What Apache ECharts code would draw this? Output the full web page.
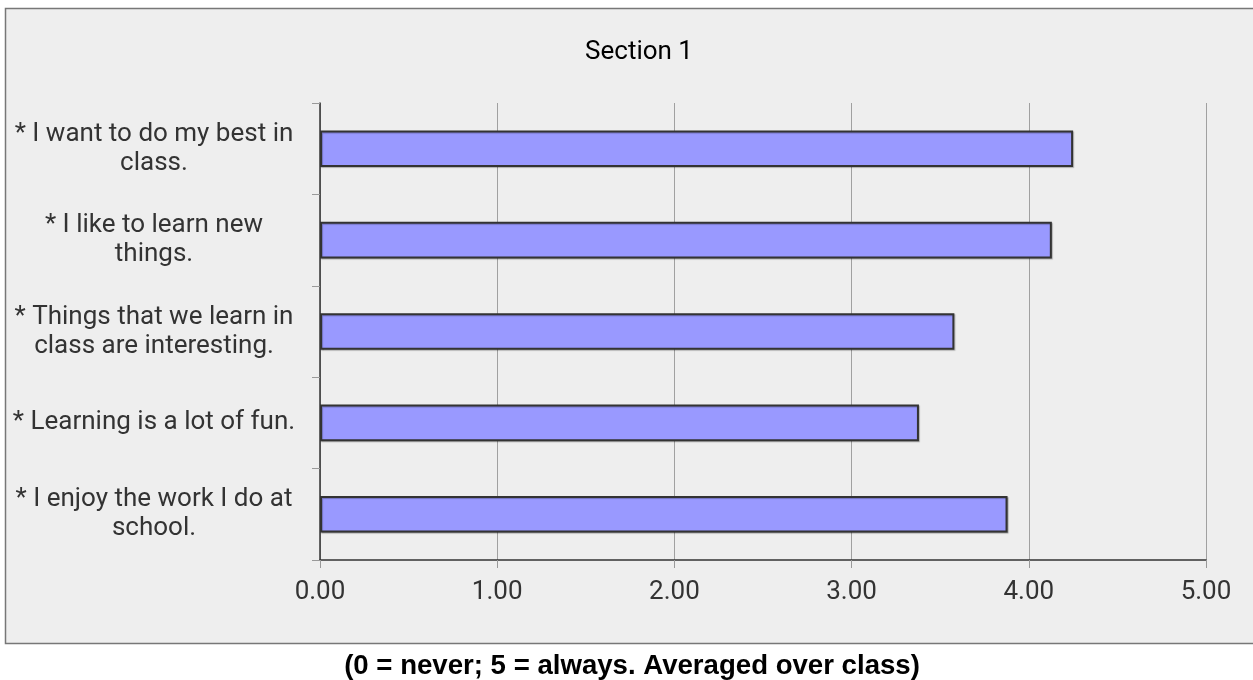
<!DOCTYPE html>
<html>
<head>
<meta charset="utf-8">
<style>
  html, body { margin: 0; padding: 0; background: #ffffff; }
  #chart { width: 1253px; height: 680px; }
</style>
<script src="https://cdn.jsdelivr.net/npm/echarts@6/dist/echarts.min.js"></script>
</head>
<body>
<div id="chart"></div>
<script>
// Survey statements (top to bottom) and their class averages
const categories = [
  '* I want to do my best in\nclass.',
  '* I like to learn new\nthings.',
  '* Things that we learn in\nclass are interesting.',
  '* Learning is a lot of fun.',
  '* I enjoy the work I do at\nschool.'
];
const averages = [4.25, 4.13, 3.58, 3.38, 3.88];
const xTicks = [0, 1, 2, 3, 4, 5];

const chart = echarts.init(document.getElementById('chart'));

chart.setOption({
  backgroundColor: '#ffffff',
  animation: false,
  graphic: [{
    type: 'rect',
    z: -10,
    shape: { x: 5.5, y: 8.5, width: 1260, height: 635 },
    style: { fill: '#eeeeee', stroke: '#777777', lineWidth: 1.5 }
  }],
  title: [{
    text: 'Section 1',
    left: 634,
    top: 34,
    textAlign: 'center',
    textStyle: { fontFamily: 'Roboto', fontSize: 26, fontWeight: 'normal', color: '#000000' }
  }, {
    text: '(0 = never; 5 = always. Averaged over class)',
    left: 627,
    top: 647,
    textAlign: 'center',
    textStyle: { fontFamily: 'Liberation Sans', fontSize: 27.6, fontWeight: 'bold', color: '#000000' }
  }],
  grid: { left: 320, right: 47, top: 103, bottom: 120, containLabel: false },
  xAxis: {
    type: 'value',
    min: xTicks[0],
    max: xTicks[xTicks.length - 1],
    interval: 1,
    axisLine: { show: true, lineStyle: { color: '#333333', width: 1.5 } },
    axisTick: { show: true, length: 8, lineStyle: { color: '#999999' } },
    splitLine: { show: true, lineStyle: { color: '#a0a0a0', width: 1 } },
    axisLabel: {
      margin: 19,
      fontFamily: 'Roboto',
      fontSize: 26,
      color: '#333333',
      formatter: v => v.toFixed(2)
    }
  },
  yAxis: {
    type: 'category',
    inverse: true,
    data: categories,
    axisLine: { show: true, lineStyle: { color: '#333333', width: 1.5 } },
    axisTick: { show: true, length: 8, lineStyle: { color: '#999999' } },
    splitLine: { show: false },
    axisLabel: {
      margin: 166,
      align: 'center',
      fontFamily: 'Roboto',
      fontSize: 26,
      lineHeight: 29,
      color: '#333333'
    }
  },
  series: [{
    type: 'bar',
    data: averages,
    barWidth: '40%',
    itemStyle: {
      color: '#9999ff',
      borderColor: '#333333',
      borderWidth: 2,
      shadowColor: 'rgba(0,0,0,0.25)',
      shadowOffsetX: 1,
      shadowOffsetY: 1,
      shadowBlur: 1
    }
  }]
});
</script>
</body>
</html>
